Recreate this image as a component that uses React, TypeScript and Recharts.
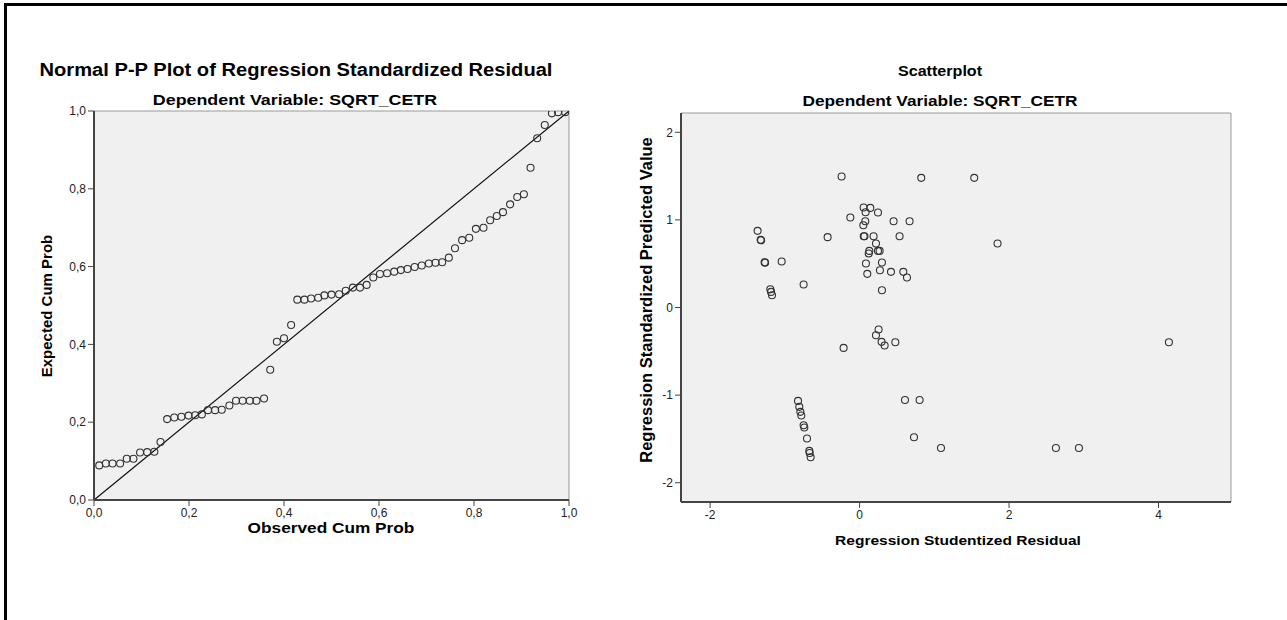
import React from 'react';
import { ScatterChart, Scatter, XAxis, YAxis, ReferenceArea, ReferenceLine } from 'recharts';

// Normal P-P plot: observed vs expected cumulative probability
const ppObserved = [
  0.011, 0.025, 0.039, 0.055, 0.069, 0.083, 0.097, 0.112, 0.127, 0.140,
  0.154, 0.169, 0.184, 0.199, 0.213, 0.227, 0.240, 0.255, 0.269, 0.285,
  0.299, 0.313, 0.328, 0.342, 0.358, 0.371, 0.385, 0.400, 0.415, 0.428,
  0.443, 0.457, 0.472, 0.485, 0.500, 0.516, 0.530, 0.545, 0.560, 0.574,
  0.588, 0.602, 0.617, 0.632, 0.646, 0.660, 0.675, 0.690, 0.705, 0.719,
  0.733, 0.747, 0.760, 0.775, 0.790, 0.804, 0.820, 0.834, 0.848, 0.861,
  0.876, 0.891, 0.905, 0.919, 0.933, 0.949, 0.964, 0.977, 0.992,
];
const ppExpected = [
  0.089, 0.094, 0.094, 0.094, 0.106, 0.106, 0.122, 0.123, 0.124, 0.149,
  0.208, 0.212, 0.214, 0.217, 0.218, 0.220, 0.231, 0.231, 0.232, 0.243,
  0.255, 0.255, 0.255, 0.255, 0.261, 0.335, 0.407, 0.416, 0.450, 0.515,
  0.515, 0.518, 0.520, 0.526, 0.528, 0.529, 0.538, 0.546, 0.546, 0.553,
  0.572, 0.581, 0.583, 0.587, 0.591, 0.594, 0.599, 0.603, 0.608, 0.610,
  0.611, 0.623, 0.647, 0.668, 0.674, 0.697, 0.700, 0.719, 0.730, 0.740,
  0.760, 0.779, 0.786, 0.854, 0.930, 0.964, 0.994, 0.997, 0.997,
];
const ppTicks = [0, 0.2, 0.4, 0.6, 0.8, 1];

// Scatterplot: studentized residual vs standardized predicted value
const residual = [
  -1.365, -1.324, -1.318, -1.271, -1.265, -1.043, -1.195, -1.185, -1.172, -0.749,
  -0.428, -0.241, -0.124, 0.054, 0.143, 0.080, 0.246, 0.076, 0.050, 0.455,
  0.669, 0.055, 0.065, 0.187, 0.535, 0.219, 0.130, 0.122, 0.246, 0.268,
  0.085, 0.299, 0.103, 0.272, 0.420, 0.585, 0.634, 0.299, 0.825, 1.534,
  1.846, 4.139, 0.607, 0.803, 0.728, 1.089, 2.627, 2.935, 0.254, 0.219,
  0.294, 0.335, 0.478, -0.214, -0.824, -0.807, -0.793, -0.780, -0.749, -0.740,
  -0.704, -0.673, -0.668, -0.655,
];
const predicted = [
  0.875, 0.772, 0.768, 0.517, 0.512, 0.525, 0.209, 0.178, 0.140, 0.262,
  0.803, 1.495, 1.027, 1.142, 1.137, 1.088, 1.084, 0.985, 0.939, 0.985,
  0.985, 0.814, 0.814, 0.814, 0.814, 0.730, 0.646, 0.616, 0.646, 0.646,
  0.502, 0.514, 0.384, 0.426, 0.407, 0.407, 0.342, 0.197, 1.480, 1.480,
  0.730, -0.396, -1.055, -1.055, -1.481, -1.603, -1.603, -1.603, -0.251, -0.316,
  -0.392, -0.434, -0.396, -0.461, -1.066, -1.134, -1.191, -1.233, -1.344, -1.370,
  -1.496, -1.637, -1.660, -1.709,
];
const residTicks = [-2, 0, 2, 4];
const predTicks = [-2, -1, 0, 1, 2];

const FONT = '"Liberation Sans", Arial, Helvetica, sans-serif';

const ppData = ppObserved.map((x, i) => ({ x, y: ppExpected[i] }));
const scatterData = residual.map((x, i) => ({ x, y: predicted[i] }));

const Ring = (props: any) => {
  const { cx, cy } = props;
  if (cx == null || cy == null) return null;
  return <circle cx={cx} cy={cy} r={3.5} fill="none" stroke="#333" strokeWidth={1.1} />;
};

const Caption = ({ x, y, text, size, stretch = 1.15, vertical = false }: any) => (
  <div
    style={{
      position: 'absolute',
      left: x,
      top: y,
      transform: vertical
        ? 'translate(-50%, -50%) rotate(-90deg)'
        : `translate(-50%, -50%) scaleX(${stretch})`,
      fontFamily: FONT,
      fontWeight: 'bold',
      fontSize: size,
      lineHeight: 1,
      whiteSpace: 'nowrap',
      color: '#000',
    }}
  >
    {text}
  </div>
);

const tickStyle = { fontSize: 12, fill: '#222', fontFamily: FONT };
const axisStyle = { stroke: '#444', strokeWidth: 2 };
const comma = (v: number) => v.toFixed(1).replace('.', ',');

const App: React.FC = () => {
  return (
    <div style={{ position: 'absolute', left: 0, top: 0, width: 1287, height: 620, background: '#fff', overflow: 'hidden' }}>
      <div
        style={{
          position: 'absolute',
          left: 4,
          top: 3,
          width: 1290,
          height: 620,
          borderTop: '3px solid #000',
          borderLeft: '3px solid #000',
        }}
      />

      {/* left: P-P plot */}
      <div style={{ position: 'absolute', left: 0, top: 0 }}>
        <ScatterChart width={600} height={560} margin={{ top: 111, right: 31, bottom: 30, left: 54 }}>
          <ReferenceArea x1={0} x2={1} y1={0} y2={1} fill="#f0f0f0" fillOpacity={1} stroke="none" />
          <ReferenceLine y={1} stroke="#999" strokeWidth={1} />
          <ReferenceLine x={1} stroke="#999" strokeWidth={1} />
          <XAxis
            type="number"
            dataKey="x"
            domain={[0, 1]}
            ticks={ppTicks}
            tickFormatter={comma}
            height={30}
            tick={tickStyle}
            tickSize={6}
            tickLine={{ stroke: '#444' }}
            axisLine={axisStyle}
            allowDataOverflow
          />
          <YAxis
            type="number"
            dataKey="y"
            domain={[0, 1]}
            ticks={ppTicks}
            tickFormatter={comma}
            width={40}
            tick={tickStyle}
            tickSize={6}
            tickLine={{ stroke: '#444' }}
            axisLine={axisStyle}
            allowDataOverflow
          />
          <ReferenceLine segment={[{ x: 0, y: 0 }, { x: 1, y: 1 }]} stroke="#111" strokeWidth={1.2} />
          <Scatter data={ppData} shape={Ring} isAnimationActive={false} />
        </ScatterChart>
      </div>

      {/* right: residual scatterplot */}
      <div style={{ position: 'absolute', left: 620, top: 0 }}>
        <ScatterChart width={640} height={560} margin={{ top: 113, right: 29, bottom: 28, left: 31 }}>
          <ReferenceArea x1={-2.39} x2={4.97} y1={-2.22} y2={2.22} fill="#f0f0f0" fillOpacity={1} stroke="none" />
          <ReferenceLine y={2.22} stroke="#999" strokeWidth={1} />
          <ReferenceLine x={4.97} stroke="#999" strokeWidth={1} />
          <XAxis
            type="number"
            dataKey="x"
            domain={[-2.39, 4.97]}
            ticks={residTicks}
            height={30}
            tick={tickStyle}
            tickSize={6}
            tickLine={{ stroke: '#444' }}
            axisLine={axisStyle}
            allowDataOverflow
          />
          <YAxis
            type="number"
            dataKey="y"
            domain={[-2.22, 2.22]}
            ticks={predTicks}
            width={30}
            tick={tickStyle}
            tickSize={6}
            tickLine={{ stroke: '#444' }}
            axisLine={axisStyle}
            allowDataOverflow
          />
          <Scatter data={scatterData} shape={Ring} isAnimationActive={false} />
        </ScatterChart>
      </div>

      <Caption x={296} y={71} text="Normal P-P Plot of Regression Standardized Residual" size={17.5} />
      <Caption x={295} y={100} text="Dependent Variable: SQRT_CETR" size={15.5} />
      <Caption x={331} y={527} text="Observed Cum Prob" size={15} />
      <Caption x={46} y={306} text="Expected Cum Prob" size={15} vertical />

      <Caption x={940} y={71} text="Scatterplot" size={14} />
      <Caption x={940} y={100} text="Dependent Variable: SQRT_CETR" size={15} />
      <Caption x={958} y={541} text="Regression Studentized Residual" size={13.5} />
      <Caption x={646} y={300} text="Regression Standardized Predicted Value" size={16.5} vertical />
    </div>
  );
};

export default App;
